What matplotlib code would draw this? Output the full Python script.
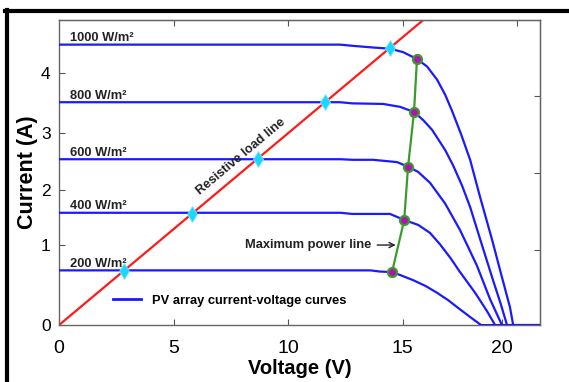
import matplotlib.pyplot as plt
from matplotlib.lines import Line2D

plt.rcParams['font.family'] = ['Liberation Sans', 'DejaVu Sans']

# --- datos ---
etiquetas = ['1000 W/m²', '800 W/m²', '600 W/m²', '400 W/m²', '200 W/m²']

v_1000 = [0, 12.27, 12.8, 13.71, 14.45, 15.02, 15.63, 16.07, 16.51, 16.86, 17.16, 17.55,
          17.95, 18.38, 18.91, 19.34, 19.69, 19.83, 21]
i_1000 = [4.87, 4.87, 4.85, 4.82, 4.80, 4.74, 4.62, 4.49, 4.26, 4.00, 3.72, 3.32,
          2.87, 2.23, 1.48, 0.83, 0.31, 0, 0]

v_800 = [0, 12.27, 12.8, 14.15, 14.89, 15.5, 15.9, 16.29, 16.86, 17.21, 17.6, 17.95,
         18.38, 18.95, 19.3, 19.56, 21]
i_800 = [3.87, 3.87, 3.85, 3.84, 3.79, 3.70, 3.56, 3.39, 3.04, 2.77, 2.42, 2.05,
         1.50, 0.78, 0.35, 0, 0]

v_600 = [0, 12.3, 12.8, 13.71, 14.76, 15.24, 15.68, 16.2, 16.86, 17.51, 18.25, 18.82, 19.34, 21]
i_600 = [2.88, 2.88, 2.87, 2.87, 2.83, 2.75, 2.66, 2.47, 2.11, 1.65, 1.03, 0.45, 0, 0]

v_400 = [0, 12.3, 12.8, 14.45, 15.11, 15.68, 16.2, 16.64, 17.1, 17.51, 18.17, 18.69, 19.04, 21]
i_400 = [1.95, 1.95, 1.93, 1.93, 1.82, 1.74, 1.60, 1.40, 1.16, 0.92, 0.56, 0.24, 0, 0]

v_200 = [0, 13.6, 14.0, 14.54, 14.89, 15.46, 16.0, 16.51, 17.0, 17.42, 17.95, 18.43, 21]
i_200 = [0.95, 0.95, 0.93, 0.92, 0.87, 0.78, 0.68, 0.56, 0.43, 0.30, 0.14, 0, 0]

curvas_v = [v_1000, v_800, v_600, v_400, v_200]
curvas_i = [i_1000, i_800, i_600, i_400, i_200]

# puntos de maxima potencia
mpp_v = [15.63, 15.5, 15.24, 15.07, 14.54]
mpp_i = [4.62, 3.70, 2.75, 1.82, 0.92]

# recta de carga resistiva (R = 3 ohm) y cortes con las curvas
carga_v = [0, 16.0]
carga_i = [0, 5.33]
corte_v = [14.45, 11.62, 8.69, 5.81, 2.84]
corte_i = [4.81, 3.87, 2.88, 1.93, 0.94]

# ticks como aparecen en la figura
xticks_pos = [0, 5, 10, 15, 19.35]
xticks_lab = ['0', '5', '10', '15', '20']
yticks_pos = [0, 1.39, 2.35, 3.34, 4.38]
yticks_lab = ['0', '1', '2', '3', '4']
top_ticks = [5, 10, 15, 20]
right_ticks = [1.30, 2.64, 3.98]

azul = '#1a1aff'
rojo = '#ff1a1a'
verde = '#3c9a2e'

fig = plt.figure(figsize=(5.69, 3.82), dpi=100)
ax = fig.add_axes([0.1037, 0.149, 0.8453, 0.799])

ax.plot(carga_v, carga_i, color=rojo, lw=1.6, zorder=2)
for v, i in zip(curvas_v, curvas_i):
    ax.plot(v, i, color=azul, lw=1.6, zorder=3, solid_joinstyle='round')
ax.plot(mpp_v, mpp_i, color=verde, lw=1.6, zorder=4)
ax.plot(corte_v, corte_i, 'd', color='#19d8ff', mec='#7fe8ff', ms=8, mew=0.6, zorder=5)
ax.plot(mpp_v, mpp_i, 'o', color='#b312b3', mec=verde, ms=6.5, mew=1.6, zorder=6)

for et, v, i in zip(etiquetas, curvas_v, curvas_i):
    ax.text(0.5, i[0] + 0.06, et, fontsize=9.3, fontweight='bold', color='#222222',
            ha='left', va='baseline')

ax.text(7.95, 2.92, 'Resistive load line', rotation=40, rotation_mode='anchor',
        fontsize=9.3, fontweight='bold', color='#222222', ha='center', va='center')

ax.annotate('Maximum power line', xy=(14.7, 1.39), xytext=(13.65, 1.39),
            ha='right', va='center', fontsize=9.3, fontweight='bold', color='#222222',
            arrowprops=dict(arrowstyle='->', color='#222222', lw=1, shrinkA=2, shrinkB=0))

leyenda = [Line2D([0], [0], color=azul, lw=2)]
ax.legend(leyenda, ['PV array current-voltage curves'], loc='center left',
          bbox_to_anchor=(0.088, 0.079), frameon=False, handlelength=2.2,
          prop={'weight': 'bold', 'size': 9.3})

ax.set_xlim(0, 21)
ax.set_ylim(0, 5.3)
ax.set_xticks(xticks_pos, xticks_lab, fontsize=14)
ax.set_yticks(yticks_pos, yticks_lab, fontsize=12.5)
ax.tick_params(direction='in', length=4, color='#555555')
ax.tick_params(axis='x', pad=11)
ax.tick_params(axis='y', pad=6)
ax.set_xlabel('Voltage (V)', fontsize=14.5, fontweight='bold', labelpad=1)
ax.set_ylabel('Current (A)', fontsize=15.5, fontweight='bold', labelpad=2)
for s in ax.spines.values():
    s.set_color('#666666')
    s.set_linewidth(1)

arriba = ax.secondary_xaxis('top')
arriba.set_xticks(top_ticks, [''] * len(top_ticks))
arriba.tick_params(direction='in', length=4, color='#555555')
derecha = ax.secondary_yaxis('right')
derecha.set_yticks(right_ticks, [''] * len(right_ticks))
derecha.tick_params(direction='in', length=4, color='#555555')

# marco negro de la figura (arriba e izquierda)
fig.add_artist(Line2D([0.009, 1], [0.972, 0.972], color='black', lw=3, transform=fig.transFigure))
fig.add_artist(Line2D([0.012, 0.012], [0, 0.975], color='black', lw=3, transform=fig.transFigure))

fig.savefig('out.png', dpi=100)
